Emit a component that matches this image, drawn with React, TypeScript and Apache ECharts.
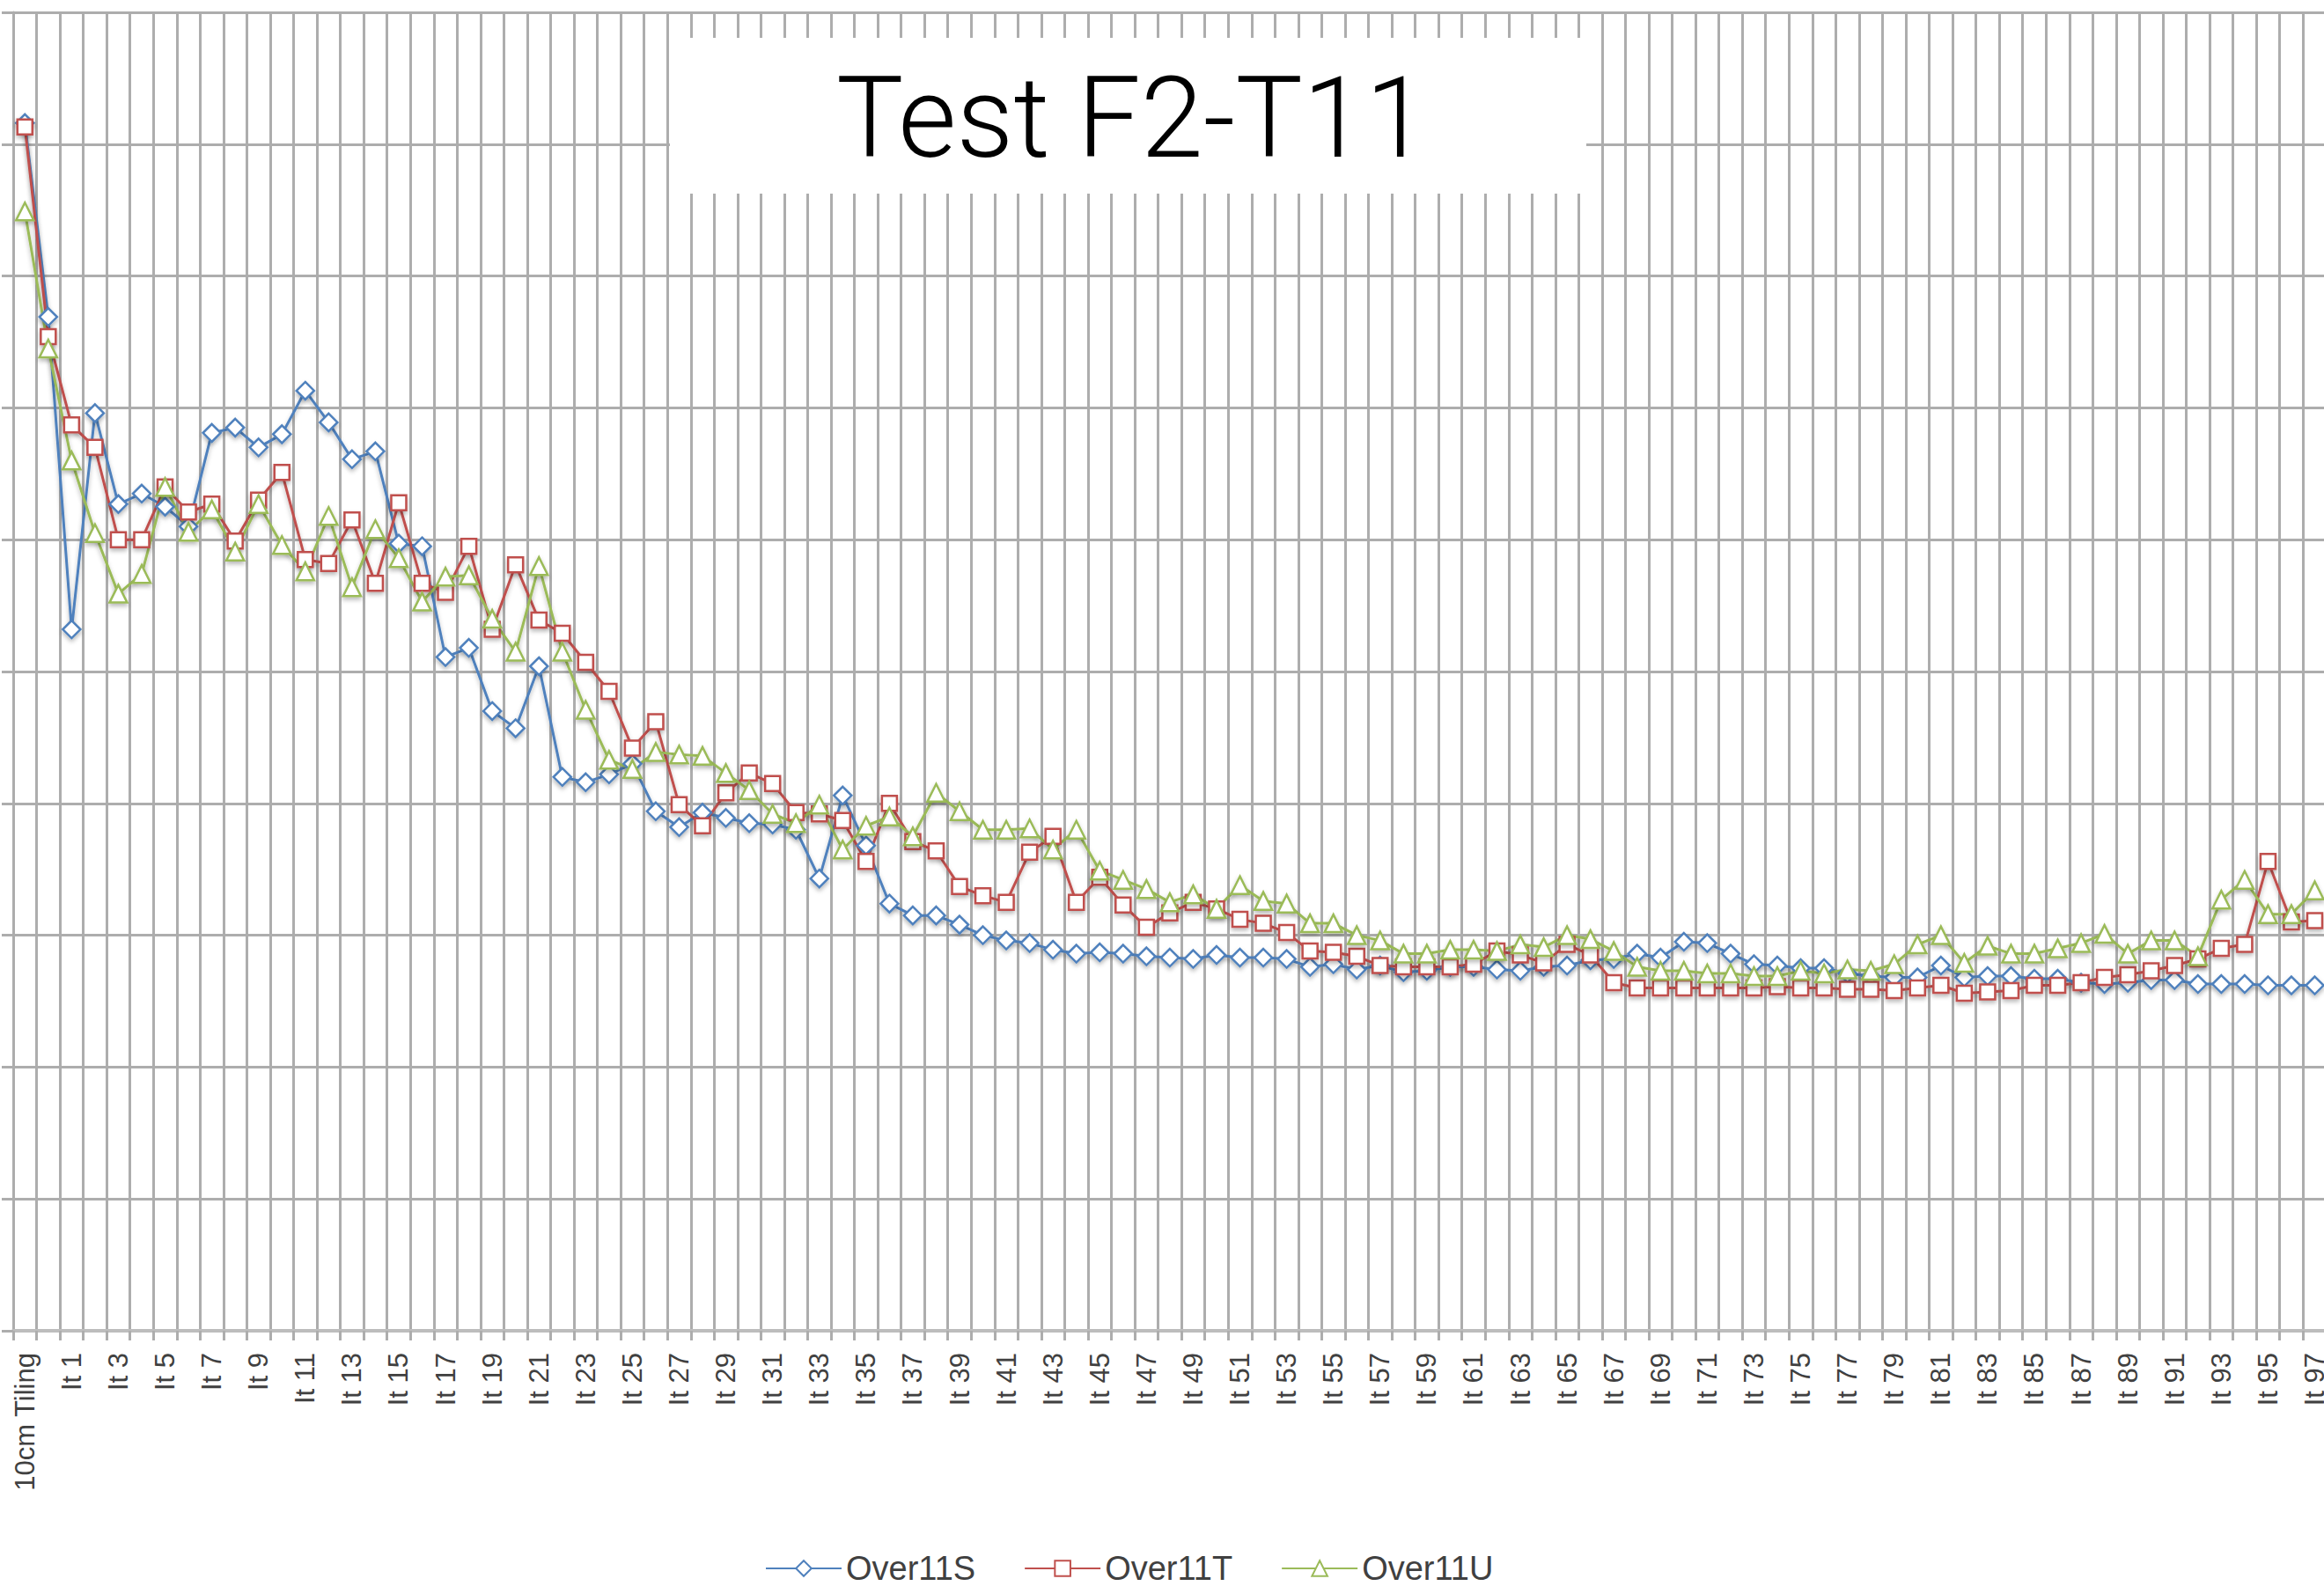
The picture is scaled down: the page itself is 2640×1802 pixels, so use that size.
import React, { useEffect, useRef } from "react";
import * as echarts from "echarts";

const titleText = "Test F2-T11";
const seriesNames = ["Over11S", "Over11T", "Over11U"];
const seriesColors = ["#4f81bd", "#c0504d", "#9bbb59"];
const seriesSymbols = ["diamond", "rect", "triangle"];

const iterationLabels = Array.from({ length: 98 }, (_, i) => `It ${i}`);
const categories = ["10cm Tiling", ...iterationLabels];

const over11S = [
  91.6, 76.9, 53.2, 69.6, 62.7, 63.5, 62.5, 61.0, 68.1, 68.5,
  67.0, 68.0, 71.3, 68.9, 66.1, 66.7, 59.7, 59.5, 51.1, 51.8,
  47.0, 45.7, 50.4, 42.0, 41.6, 42.2, 43.0, 39.4, 38.2, 39.3,
  38.9, 38.5, 38.4, 38.0, 34.3, 40.6, 36.8, 32.4, 31.5, 31.5,
  30.8, 30.0, 29.6, 29.4, 28.9, 28.6, 28.7, 28.6, 28.4, 28.3,
  28.2, 28.5, 28.3, 28.3, 28.2, 27.6, 27.8, 27.4, 27.7, 27.2,
  27.3, 27.6, 27.6, 27.4, 27.3, 27.6, 27.7, 28.1, 28.2, 28.6,
  28.3, 29.5, 29.4, 28.6, 27.8, 27.7, 27.5, 27.5, 27.1, 26.9,
  26.8, 26.8, 27.7, 26.8, 26.9, 26.9, 26.7, 26.7, 26.4, 26.3,
  26.4, 26.6, 26.6, 26.3, 26.3, 26.3, 26.2, 26.2, 26.2,
];

const over11T = [
  91.3, 75.4, 68.7, 67.0, 60.0, 60.0, 64.0, 62.1, 62.7, 59.9,
  63.0, 65.1, 58.5, 58.2, 61.5, 56.7, 62.8, 56.7, 56.0, 59.5,
  53.2, 58.1, 53.9, 52.9, 50.7, 48.5, 44.2, 46.2, 39.9, 38.3,
  40.8, 42.3, 41.5, 39.3, 39.2, 38.7, 35.6, 40.0, 37.1, 36.4,
  33.7, 33.0, 32.5, 36.3, 37.5, 32.5, 34.4, 32.3, 30.6, 31.7,
  32.5, 32.0, 31.2, 30.9, 30.2, 28.8, 28.7, 28.4, 27.7, 27.6,
  27.6, 27.6, 27.8, 28.8, 28.5, 27.9, 29.3, 28.5, 26.4, 26.0,
  26.0, 26.0, 26.0, 26.0, 26.0, 26.1, 26.0, 26.0, 25.9, 25.9,
  25.8, 26.0, 26.2, 25.6, 25.7, 25.8, 26.2, 26.2, 26.4, 26.8,
  27.0, 27.3, 27.7, 28.2, 29.0, 29.3, 35.6, 31.0, 31.1,
];

const over11U = [
  84.9, 74.5, 66.0, 60.5, 55.9, 57.4, 64.0, 60.6, 62.3, 59.1,
  62.7, 59.6, 57.6, 61.8, 56.4, 60.8, 58.6, 55.3, 57.2, 57.3,
  54.0, 51.5, 58.0, 51.5, 47.1, 43.3, 42.6, 43.9, 43.7, 43.6,
  42.3, 41.0, 39.2, 38.5, 39.9, 36.5, 38.3, 39.0, 37.5, 40.8,
  39.4, 38.0, 38.0, 38.1, 36.5, 38.0, 34.9, 34.2, 33.5, 32.5,
  33.1, 32.0, 33.8, 32.6, 32.4, 30.9, 30.9, 30.0, 29.6, 28.6,
  28.6, 28.9, 28.9, 28.8, 29.3, 29.1, 30.0, 29.7, 28.8, 27.6,
  27.3, 27.3, 27.1, 27.1, 26.9, 26.9, 27.3, 27.1, 27.4, 27.3,
  27.8, 29.3, 30.0, 27.9, 29.2, 28.6, 28.6, 29.0, 29.4, 30.1,
  28.6, 29.6, 29.6, 28.4, 32.7, 34.2, 31.6, 31.6, 33.4,
];

const seriesData = [over11S, over11T, over11U];

const GRID_COLOR = "#adadad";

export default function App() {
  const ref = useRef<HTMLDivElement>(null);

  useEffect(() => {
    if (!ref.current) return;
    const chart = echarts.init(ref.current, undefined, { renderer: "svg" });
    const shadow = {
      shadowColor: "rgba(0,0,0,0.28)",
      shadowBlur: 5,
      shadowOffsetY: 3,
    };
    chart.setOption({
      animation: false,
      backgroundColor: "#ffffff",
      grid: { left: 15, top: 14, right: 0, bottom: 290, containLabel: false },
      xAxis: {
        type: "category",
        data: categories,
        boundaryGap: true,
        axisLine: { show: true, lineStyle: { color: "#bdbdbd", width: 4 } },
        axisTick: {
          show: true,
          interval: 0,
          length: 11,
          lineStyle: { color: GRID_COLOR, width: 3 },
        },
        splitLine: {
          show: true,
          interval: 0,
          lineStyle: { color: GRID_COLOR, width: 3 },
        },
        axisLabel: {
          interval: 1,
          rotate: 90,
          fontSize: 31,
          fontFamily: "Liberation Sans",
          color: "#404040",
          margin: 25,
        },
      },
      yAxis: {
        type: "value",
        min: 0,
        max: 100,
        interval: 10,
        axisLabel: { show: false },
        axisLine: { show: true, lineStyle: { color: GRID_COLOR, width: 3 } },
        axisTick: { show: true, length: 13, lineStyle: { color: GRID_COLOR, width: 3 } },
        splitLine: { show: true, lineStyle: { color: GRID_COLOR, width: 3 } },
      },
      legend: {
        data: seriesNames,
        left: 864,
        top: 1758,
        itemWidth: 86,
        itemHeight: 22,
        itemGap: 55,
        textStyle: {
          fontSize: 38,
          lineHeight: 38,
          fontFamily: "Liberation Sans",
          color: "#404040",
        },
      },
      graphic: [
        {
          type: "rect",
          z: 100,
          shape: { x: 761, y: 43, width: 1041, height: 177 },
          style: { fill: "#ffffff" },
        },
        {
          type: "text",
          z: 101,
          x: 1286,
          y: 134,
          style: {
            text: titleText,
            fontSize: 128,
            fontWeight: 300,
            fontFamily: "Roboto",
            fill: "#000000",
            align: "center",
            verticalAlign: "middle",
          },
        },
      ],
      series: seriesNames.map((name, k) => ({
        name,
        type: "line",
        data: seriesData[k],
        symbol: seriesSymbols[k],
        symbolSize: k === 1 ? 17 : 20,
        showAllSymbol: true,
        lineStyle: { color: seriesColors[k], width: 3, ...shadow },
        itemStyle: {
          color: "#ffffff",
          borderColor: seriesColors[k],
          borderWidth: 2.5,
          ...shadow,
        },
        emphasis: { disabled: true },
      })),
    });
    return () => chart.dispose();
  }, []);

  return (
    <div
      style={{
        position: "fixed",
        left: 0,
        top: 0,
        width: 2640,
        height: 1802,
        overflow: "hidden",
        background: "#ffffff",
      }}
    >
      <div ref={ref} style={{ width: 2645, height: 1802 }} />
    </div>
  );
}
